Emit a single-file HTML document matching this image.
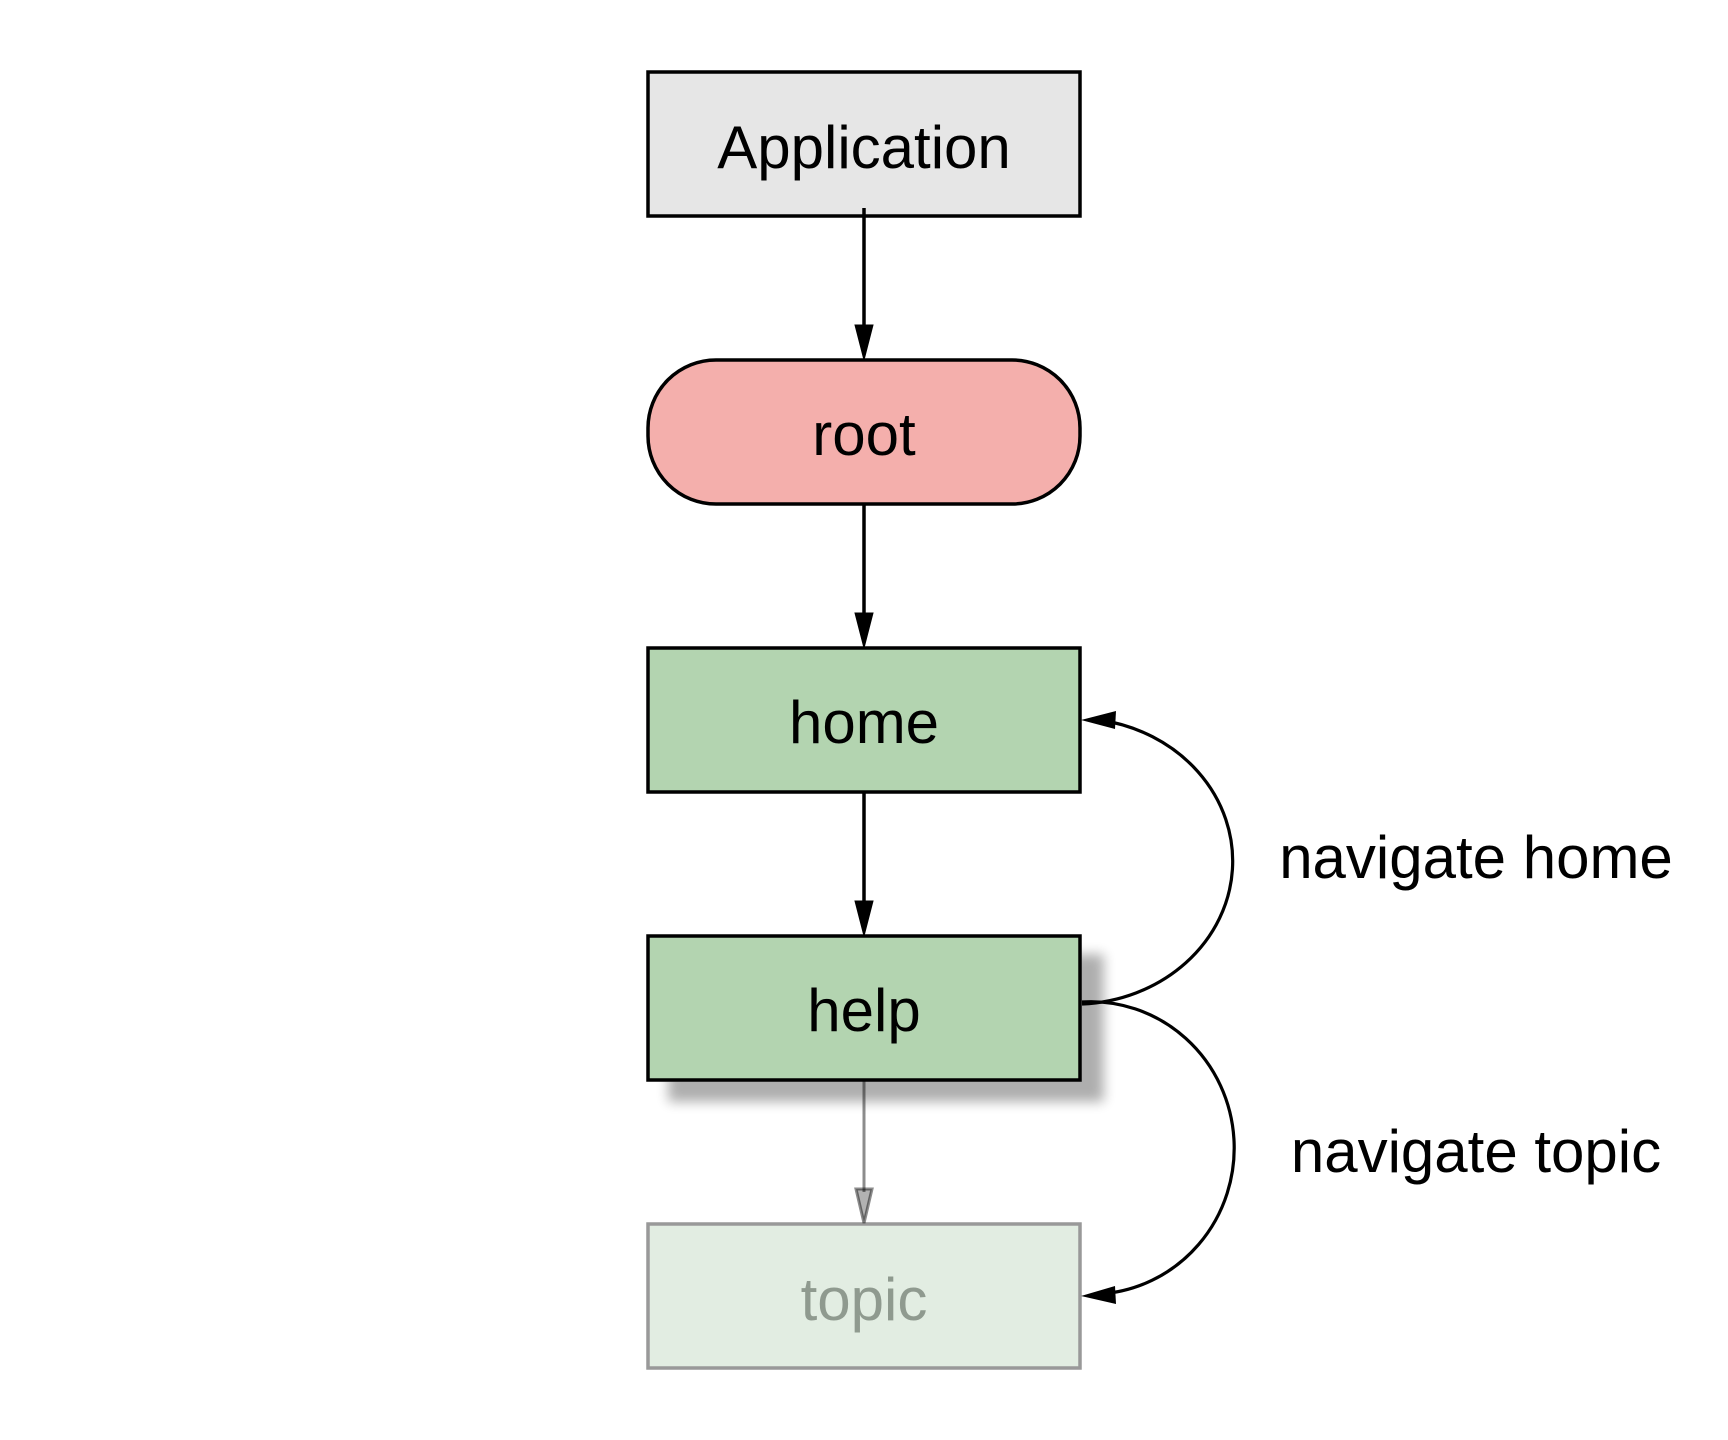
<!DOCTYPE html>
<html><head><meta charset="utf-8"><style>html,body{margin:0;padding:0;background:#fff}svg{display:block}</style></head>
<body>
<svg width="1728" height="1440" viewBox="0 0 1728 1440" xmlns="http://www.w3.org/2000/svg">
<defs>
<filter id="sh" x="-20%" y="-20%" width="150%" height="160%">
<feGaussianBlur in="SourceAlpha" stdDeviation="6"/>
<feOffset dx="22" dy="20" result="b"/>
<feComponentTransfer><feFuncA type="linear" slope="0.32"/></feComponentTransfer>
<feMerge><feMergeNode/><feMergeNode in="SourceGraphic"/></feMerge>
</filter>
</defs>
<g font-family="Liberation Sans, Arial, sans-serif" font-size="60" text-anchor="middle">
<rect x="648" y="72" width="432" height="144" fill="#e6e6e6" stroke="#000" stroke-width="3.5"/>
<text x="864" y="168" fill="#000">Application</text>
<rect x="648" y="360" width="432" height="144" rx="68" ry="68" fill="#f4afac" stroke="#000" stroke-width="3.5"/>
<text x="864" y="455" fill="#000">root</text>
<rect x="648" y="648" width="432" height="144" fill="#b3d4b0" stroke="#000" stroke-width="3.5"/>
<text x="864" y="743" fill="#000">home</text>
<rect x="648" y="936" width="432" height="144" fill="#b3d4b0" stroke="#000" stroke-width="3.5" filter="url(#sh)"/>
<text x="864" y="1031" fill="#000">help</text>
<rect x="648" y="1224" width="432" height="144" fill="#e2ede2" stroke="#999" stroke-width="3.5"/>
<text x="864" y="1320" fill="#8f9a8f">topic</text>
<text x="1476" y="878" fill="#000">navigate home</text>
<text x="1476" y="1172" fill="#000">navigate topic</text>
</g>
<g stroke="#000" stroke-width="3.5" fill="#000">
<line x1="864" y1="208" x2="864" y2="330"/>
<polygon points="855,325 873,325 864,360" stroke-width="1"/>
<line x1="864" y1="504" x2="864" y2="618"/>
<polygon points="855,613 873,613 864,648" stroke-width="1"/>
<line x1="864" y1="792" x2="864" y2="906"/>
<polygon points="855,901 873,901 864,936" stroke-width="1"/>
</g>
<g stroke="#000" stroke-opacity="0.45" stroke-width="3" fill="#000" fill-opacity="0.3">
<line x1="864" y1="1080" x2="864" y2="1192"/>
<polygon points="856,1189 872,1189 864,1223"/>
</g>
<g fill="none" stroke="#000" stroke-width="3.2">
<path d="M1082,1004 A158,143 0 0 0 1100,720"/>
<path d="M1082,1002 A143,146 0 0 1 1100,1294"/>
</g>
<g fill="#000">
<polygon points="1081,720 1116,711 1115,729"/>
<polygon points="1081,1296 1115,1286 1116,1304"/>
</g>
</svg>
</body></html>
